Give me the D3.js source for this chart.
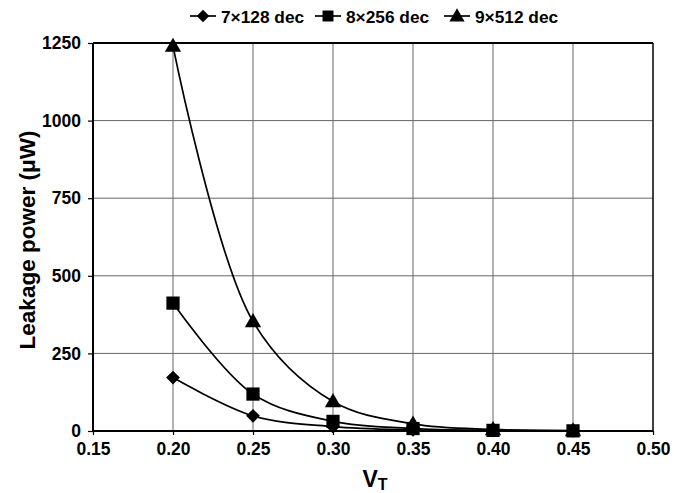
<!DOCTYPE html>
<html>
<head>
<meta charset="utf-8">
<script src="https://cdn.jsdelivr.net/npm/d3@7"></script>
<style>
  html, body { margin: 0; padding: 0; background: #fff; }
  svg { display: block; font-family: "Liberation Sans", Arial, sans-serif; font-weight: bold; }
</style>
</head>
<body>
<svg id="chart" width="674" height="493"></svg>
<script>
const xValues = [0.20, 0.25, 0.30, 0.35, 0.40, 0.45];
const seriesNames = ["7×128 dec", "8×256 dec", "9×512 dec"];
const dec7x128 = [172, 49, 14, 3.5, 1, 0.3];
const dec8x256 = [412, 119, 31, 8, 2, 0.5];
const dec9x512 = [1240, 353, 95, 23, 5, 1.2];
const xTicks = [0.15, 0.20, 0.25, 0.30, 0.35, 0.40, 0.45, 0.50];
const yTicks = [0, 250, 500, 750, 1000, 1250];

const svg = d3.select("#chart");
const m = { left: 93, right: 653, top: 43, bottom: 431 };
const x = d3.scaleLinear().domain([0.15, 0.50]).range([m.left, m.right]);
const y = d3.scaleLinear().domain([0, 1250]).range([m.bottom, m.top]);

// grid
svg.append("g").selectAll("line").data(xTicks.slice(1, -1)).join("line")
  .attr("x1", d => x(d)).attr("x2", d => x(d)).attr("y1", m.top).attr("y2", m.bottom)
  .attr("stroke", "#666").attr("stroke-width", 1);
svg.append("g").selectAll("line").data(yTicks.slice(1, -1)).join("line")
  .attr("x1", m.left).attr("x2", m.right).attr("y1", d => y(d)).attr("y2", d => y(d))
  .attr("stroke", "#666").attr("stroke-width", 1);

// border top & right
svg.append("line").attr("x1", m.left).attr("x2", m.right).attr("y1", m.top).attr("y2", m.top)
  .attr("stroke", "#000").attr("stroke-width", 2);
svg.append("line").attr("x1", m.right).attr("x2", m.right).attr("y1", m.top).attr("y2", m.bottom)
  .attr("stroke", "#000").attr("stroke-width", 1.5);

// axes
const xAxis = svg.append("g").attr("transform", `translate(0,${m.bottom})`)
  .call(d3.axisBottom(x).tickValues(xTicks).tickFormat(d3.format(".2f")).tickSize(4).tickPadding(8));
const yAxis = svg.append("g").attr("transform", `translate(${m.left},0)`)
  .call(d3.axisLeft(y).tickValues(yTicks).tickFormat(d3.format("d")).tickSize(5).tickPadding(7));
[xAxis, yAxis].forEach(a => {
  a.select(".domain").attr("stroke", "#000").attr("stroke-width", 2);
  a.selectAll(".tick line").attr("stroke", "#000").attr("stroke-width", 1.2);
  a.selectAll("text").attr("fill", "#000").attr("font-size", 17.5).attr("font-weight", "bold")
    .attr("font-family", "Liberation Sans, Arial, sans-serif");
});
xAxis.select(".domain").attr("d", `M${m.left},0H${m.right}`);
yAxis.select(".domain").attr("d", `M0,${m.bottom}V${m.top}`);

// axis titles
svg.append("text").attr("transform", `translate(35,${(m.top + m.bottom) / 2 + 3}) rotate(-90)`)
  .attr("text-anchor", "middle").attr("font-size", 22.5)
  .text("Leakage power (μW)");
const vt = svg.append("text").attr("x", (m.left + m.right) / 2 + 2).attr("y", 487)
  .attr("text-anchor", "middle").attr("font-size", 23);
vt.append("tspan").text("V");
vt.append("tspan").attr("font-size", 16).attr("dy", 3).text("T");

// series
const diamond = { draw(ctx, size) { const r = Math.sqrt(size / 2); ctx.moveTo(0, -r); ctx.lineTo(r, 0); ctx.lineTo(0, r); ctx.lineTo(-r, 0); ctx.closePath(); } };
const series = [
  { name: seriesNames[0], values: dec7x128, sym: diamond, size: 95 },
  { name: seriesNames[2], values: dec9x512, sym: d3.symbolTriangle, size: 115 },
  { name: seriesNames[1], values: dec8x256, sym: d3.symbolSquare, size: 175 }
];
const line = d3.line().x(d => x(d[0])).y(d => y(d[1])).curve(d3.curveCatmullRom.alpha(0.5));
series.forEach(s => {
  const pts = xValues.map((v, i) => [v, s.values[i]]);
  svg.append("path").attr("d", line(pts)).attr("fill", "none").attr("stroke", "#000").attr("stroke-width", 1.7);
});
series.forEach(s => {
  const pts = xValues.map((v, i) => [v, s.values[i]]);
  svg.append("g").selectAll("path").data(pts).join("path")
    .attr("d", d3.symbol().type(s.sym).size(s.size))
    .attr("transform", d => `translate(${x(d[0])},${y(d[1]) + (s.sym === d3.symbolTriangle ? 1 : 0)})`)
    .attr("fill", "#000");
});

// legend
const legendItems = [
  { name: seriesNames[0], sym: diamond, size: 80, cx: 203 },
  { name: seriesNames[1], sym: d3.symbolSquare, size: 120, cx: 328 },
  { name: seriesNames[2], sym: d3.symbolTriangle, size: 100, cx: 457 }
];
const lg = svg.append("g");
legendItems.forEach(it => {
  lg.append("line").attr("x1", it.cx - 13).attr("x2", it.cx + 13).attr("y1", 16).attr("y2", 16)
    .attr("stroke", "#000").attr("stroke-width", 1.7);
  lg.append("path").attr("d", d3.symbol().type(it.sym).size(it.size)())
    .attr("transform", `translate(${it.cx},${16 + (it.sym === d3.symbolTriangle ? 1 : 0)})`).attr("fill", "#000");
  lg.append("text").attr("x", it.cx + 18).attr("y", 22.5).attr("font-size", 17.3).text(it.name);
});
</script>
</body>
</html>
